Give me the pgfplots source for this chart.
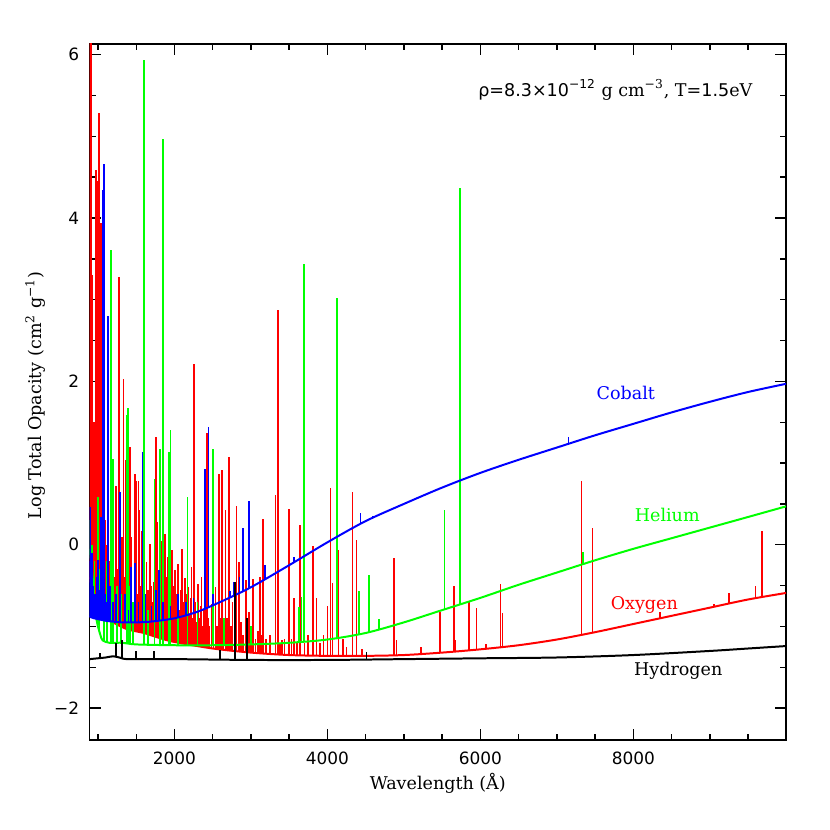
\documentclass[border=0pt]{standalone}
\usepackage{fontspec}
\setmainfont{DejaVu Serif}
\setsansfont{DejaVu Sans}
\usepackage{pgfplots}
\pgfplotsset{compat=1.18}
\definecolor{pgred}{RGB}{255,0,0}
\definecolor{pggreen}{RGB}{0,255,0}
\definecolor{pgblue}{RGB}{0,0,255}
\pgfplotsset{
  spikes/.style={draw=none, mark=none, forget plot,
    error bars/.cd, y dir=plus, y explicit, error mark=none,
    error bar style={draw=#1, line width=0.85pt, solid}},
}
\begin{document}
\begin{tikzpicture}
\useasboundingbox (-44.75bp,-45bp) rectangle (370.25bp,370bp);
\begin{axis}[
  at={(0,0)}, anchor=south west,
  scale only axis, width=348.25bp, height=348bp,
  xmin=889, xmax=9996, ymin=-2.39, ymax=6.13,
  xtick={2000,4000,6000,8000}, xticklabels={2000,4000,6000,8000},
  minor xtick={1000,1500,2500,3000,3500,4500,5000,5500,6500,7000,7500,8500,9000,9500},
  ytick={-2,0,2,4,6}, yticklabels={−2,0,2,4,6},
  minor ytick={-1.5,-1,-0.5,0.5,1,1.5,2.5,3,3.5,4.5,5,5.5},
  tick align=inside,
  major tick length=5.7bp, minor tick length=3bp,
  tick style={black, line width=0.7pt},
  axis line style={line width=1pt},
  tick label style={font=\sffamily\fontsize{8.5}{10}\selectfont},
  xticklabel style={anchor=center, yshift=-9bp},
  yticklabel style={anchor=east, inner sep=0pt, xshift=-5bp},
  label style={font=\fontsize{8.8}{10}\selectfont},
  xlabel={Wavelength (Å)},
  ylabel={Log Total Opacity (cm\textsuperscript{2} g\textsuperscript{−1})},
  xlabel style={at={(axis description cs:0.5,-0.0618)}, anchor=center},
  ylabel style={at={(axis description cs:-0.0775,0.495)}, anchor=center},
]
% ---------------- Oxygen (red) ----------------
\addplot[pgred, line width=1pt, smooth] coordinates {
 (889,-0.4) (950,-0.6) (1000,-0.7) (1100,-0.85) (1200,-0.95) (1300,-1.0) (1400,-1.04)
 (1600,-1.08) (1800,-1.14) (2000,-1.19) (2500,-1.27) (3000,-1.32) (3500,-1.35)
 (4000,-1.36) (4500,-1.36) (5000,-1.35) (5500,-1.32) (6000,-1.28) (6500,-1.23)
 (7000,-1.16) (7500,-1.07) (8000,-0.97) (8500,-0.87) (9000,-0.77) (9500,-0.67) (9996,-0.59)};
\addplot[spikes=pgred] table[x=x, y=b, y error expr=\thisrow{t}-\thisrow{b}] {
x b t
895 -0.42 6.5
905 -0.45 3.94
915 -0.48 6.5
930 -0.53 3.3
945 -0.58 1.5
961 -0.62 0.9
974 -0.65 4.59
991 -0.68 4.45
1009 -0.71 5.29
1018 -0.73 2.0
1026 -0.74 3.94
1035 -0.75 2.86
1045 -0.77 1.0
1056 -0.78 3.94
1070 -0.80 1.5
1092 -0.84 0.3
1110 -0.86 0.0
1125 -0.87 0.6
1150 -0.90 -0.2
1170 -0.92 -0.5
1192 -0.94 0.72
1210 -0.955 -0.4
1231 -0.965 0.72
1250 -0.975 -0.3
1265 -0.98 -0.6
1279 -0.99 3.28
1295 -1.0 -0.5
1310 -1.0 0.1
1320 -1.01 -0.7
1332 -1.01 2.03
1345 -1.02 -0.4
1366 -1.03 1.04
1380 -1.03 -0.6
1396 -1.04 0.5
1419 -1.04 1.2
1430 -1.045 -0.5
1440 -1.05 0.09
1455 -1.05 -0.7
1484 -1.06 0.87
1495 -1.06 -0.3
1505 -1.06 0.78
1515 -1.065 -0.6
1528 -1.065 0.78
1540 -1.07 0.42
1555 -1.07 -0.5
1565 -1.07 -0.8
1579 -1.075 0.17
1595 -1.08 -0.4
1610 -1.08 -0.6
1625 -1.08 -0.75
1636 -1.085 -0.21
1650 -1.085 -0.55
1665 -1.09 -0.8
1680 -1.09 0.01
1695 -1.10 -0.5
1710 -1.10 -0.7
1725 -1.105 -0.45
1754 -1.115 1.32
1765 -1.12 -0.6
1780 -1.125 0.28
1795 -1.13 -0.7
1810 -1.14 0.17
1825 -1.145 -0.5
1841 -1.15 0.05
1860 -1.155 -0.65
1876 -1.16 0.13
1890 -1.165 -0.75
1905 -1.165 -0.4
1919 -1.17 -0.15
1935 -1.175 -0.6
1950 -1.18 -0.85
1971 -1.18 -0.07
1990 -1.185 -0.5
2006 -1.19 -0.31
2020 -1.19 -0.75
2035 -1.195 -0.6
2050 -1.20 -0.23
2065 -1.20 -0.8
2080 -1.20 -0.55
2102 -1.205 -0.05
2115 -1.21 -0.7
2137 -1.21 -0.41
2150 -1.215 -0.9
2165 -1.215 -0.6
2181 -1.22 -0.52
2195 -1.22 -0.85
2210 -1.225 -0.65
2224 -1.225 -0.27
2240 -1.23 -0.9
2255 -1.23 2.21
2270 -1.235 -0.7
2285 -1.235 -0.95
2300 -1.24 -0.6
2311 -1.24 -0.48
2325 -1.24 -0.9
2340 -1.245 -0.75
2355 -1.245 -0.40
2370 -1.25 -1.0
2385 -1.25 -0.8
2398 -1.25 -0.72
2421 -1.255 1.37
2440 -1.26 -0.9
2460 -1.26 -1.0
2486 -1.265 -0.72
2510 -1.27 -0.95
2538 -1.27 -0.52
2555 -1.275 -1.0
2578 -1.28 0.87
2595 -1.28 -0.9
2617 -1.28 0.92
2640 -1.285 -1.0
2669 -1.29 0.42
2690 -1.29 -0.9
2717 -1.29 1.08
2740 -1.295 -1.0
2760 -1.295 -0.7
2790 -1.30 -1.05
2813 -1.30 0.47
2843 -1.30 -0.21
2870 -1.305 -0.95
2900 -1.31 -1.1
2931 -1.31 -0.43
2955 -1.31 -1.0
2977 -1.315 -0.82
3000 -1.32 -1.1
3030 -1.32 -0.42
3060 -1.325 -1.15
3090 -1.325 -1.05
3117 -1.33 -0.39
3135 -1.33 -1.1
3153 -1.33 0.31
3200 -1.33 -1.15
3250 -1.335 -1.1
3322 -1.34 0.61
3356 -1.34 2.87
3380 -1.34 -1.2
3407 -1.345 -1.17
3440 -1.345 -1.15
3496 -1.35 0.44
3530 -1.35 -1.15
3562 -1.35 -0.65
3600 -1.35 -1.2
3644 -1.355 0.24
3700 -1.355 -1.2
3750 -1.355 -1.1
3806 -1.36 -0.67
3814 -1.36 -0.02
3858 -1.36 -0.65
3900 -1.36 -1.2
3950 -1.36 -1.1
4002 -1.36 -0.75
4041 -1.36 0.70
4067 -1.36 -0.47
4146 -1.36 -0.06
4207 -1.36 -1.15
4250 -1.36 -1.25
4329 -1.36 0.65
4381 -1.36 0.06
4450 -1.36 -1.28
4873 -1.35 -0.16
4904 -1.35 -1.17
5222 -1.34 -1.25
5470 -1.32 -0.82
5653 -1.31 -0.50
5670 -1.31 -1.17
5849 -1.29 -0.69
5949 -1.285 -0.77
6071 -1.27 -1.22
6263 -1.255 -0.48
6289 -1.25 -0.84
7322 -1.11 0.78
7466 -1.075 0.20
8345 -0.90 -0.82
9055 -0.76 -0.72
9247 -0.72 -0.59
9596 -0.655 -0.50
9679 -0.64 0.17
};
% ---------------- Helium (green) ----------------
\addplot[pggreen, line width=1pt, smooth] coordinates {
 (889,-0.05) (910,-0.2) (940,-0.5) (970,-0.85) (1000,-1.0) (1030,-1.1) (1060,-1.17)
 (1150,-1.2) (1320,-1.2) (1500,-1.22) (2000,-1.23)
 (2500,-1.23) (3000,-1.22) (3500,-1.20) (4000,-1.16) (4500,-1.08) (5000,-0.95)
 (5500,-0.80) (6000,-0.65) (6500,-0.49) (7000,-0.34) (7500,-0.19) (8000,-0.05)
 (8500,0.08) (9000,0.21) (9500,0.34) (9996,0.47)};
\addplot[spikes=pggreen] table[x=x, y=b, y error expr=\thisrow{t}-\thisrow{b}] {
x b t
900 -0.12 0.3
925 -0.35 0.0
955 -0.68 -0.2
996 -0.98 0.58
1020 -1.07 -0.3
1080 -1.18 -0.6
1120 -1.19 -0.2
1166 -1.2 3.61
1200 -1.2 1.05
1250 -1.2 -0.5
1300 -1.2 -0.6
1375 -1.21 1.59
1388 -1.21 1.67
1420 -1.21 -0.5
1460 -1.215 -0.7
1606 -1.223 5.93
1650 -1.224 -0.8
1737 -1.225 0.81
1811 -1.227 1.17
1854 -1.228 4.97
1933 -1.23 1.14
1950 -1.23 1.41
2050 -1.23 -0.6
2172 -1.23 0.59
2300 -1.23 -0.7
2508 -1.23 1.17
2650 -1.227 -0.9
3000 -1.22 -1.0
3627 -1.19 -0.76
3662 -1.19 -0.64
3697 -1.185 3.44
4124 -1.14 3.02
4415 -1.094 -0.56
4546 -1.07 -0.37
4677 -1.035 -0.91
5531 -0.79 0.43
5731 -0.73 4.37
7343 -0.24 -0.09
};
% ---------------- Cobalt (blue) ----------------
\addplot[pgblue, line width=1pt, smooth] coordinates {
 (889,-0.88) (950,-0.9) (1000,-0.91) (1100,-0.93) (1300,-0.95) (1500,-0.95)
 (1700,-0.94) (2000,-0.9) (2300,-0.82) (2600,-0.70) (3000,-0.52) (3500,-0.25)
 (4000,0.03) (4500,0.29) (5000,0.50) (5500,0.70) (6000,0.88) (6500,1.04)
 (7000,1.19) (7500,1.34) (8000,1.48) (8500,1.62) (9000,1.75) (9500,1.87) (9996,1.97)};
\addplot[spikes=pgblue] table[x=x, y=b, y error expr=\thisrow{t}-\thisrow{b}] {
x b t
893 -0.88 -0.2
900 -0.885 0.46
910 -0.886 -0.4
920 -0.89 -0.1
935 -0.895 -0.5
960 -0.9 -0.6
980 -0.905 -0.4
1000 -0.91 -0.19
1020 -0.914 -0.55
1040 -0.918 0.34
1065 -0.923 4.34
1079 -0.926 4.66
1100 -0.93 -0.6
1120 -0.932 -0.7
1135 -0.934 2.80
1160 -0.936 -0.5
1200 -0.94 -0.7
1240 -0.944 -0.6
1288 -0.949 0.64
1350 -0.95 -0.6
1400 -0.95 -0.8
1431 -0.95 -0.27
1484 -0.95 -0.22
1530 -0.95 -0.7
1580 -0.947 1.14
1620 -0.946 -0.6
1700 -0.94 -0.75
1760 -0.932 -0.55
1797 -0.93 -0.31
1850 -0.92 -0.7
1950 -0.907 -0.75
2050 -0.887 -0.6
2150 -0.86 -0.7
2250 -0.833 -0.65
2399 -0.78 0.93
2443 -0.763 1.44
2500 -0.74 -0.6
2725 -0.647 -0.56
2782 -0.623 -0.45
2850 -0.59 -0.4
2899 -0.568 0.20
2973 -0.53 0.53
3183 -0.42 -0.25
3562 -0.215 -0.15
4433 0.255 0.39
4599 0.33 0.35
4934 0.47 0.49
7150 1.235 1.32
};
% ---------------- Hydrogen (black) ----------------
\addplot[black, line width=1pt, smooth] coordinates {
 (889,-1.40) (1100,-1.38) (1200,-1.365) (1300,-1.385) (1400,-1.40) (2000,-1.40)
 (3000,-1.41) (4000,-1.41) (5000,-1.40) (6000,-1.39) (7000,-1.38) (8000,-1.35)
 (9000,-1.30) (9500,-1.27) (9996,-1.24)};
\addplot[spikes=black] table[x=x, y=b, y error expr=\thisrow{t}-\thisrow{b}] {
x b t
1030 -1.387 -1.32
1231 -1.37 -1.2
1310 -1.386 -1.17
1493 -1.40 -1.3
1736 -1.40 -1.3
2595 -1.406 -1.29
2791 -1.408 -0.46
2951 -1.41 -0.9
4512 -1.405 -1.31
};
% ---------------- annotations ----------------
\node[font=\fontsize{8.8}{10}\selectfont, anchor=center] at (axis cs:7764,5.57)
  {{\sffamily ρ=8.3×10\textsuperscript{−12}} g cm\textsuperscript{−3}, T={\sffamily 1.5}eV};
\node[font=\fontsize{8.8}{10}\selectfont, text=pgblue] at (axis cs:7901,1.86) {Cobalt};
\node[font=\fontsize{8.8}{10}\selectfont, text=pggreen] at (axis cs:8443,0.36) {Helium};
\node[font=\fontsize{8.8}{10}\selectfont, text=pgred] at (axis cs:8143,-0.74) {Oxygen};
\node[font=\fontsize{8.8}{10}\selectfont, text=black] at (axis cs:8587,-1.54) {Hydrogen};
\end{axis}
\end{tikzpicture}
\end{document}
